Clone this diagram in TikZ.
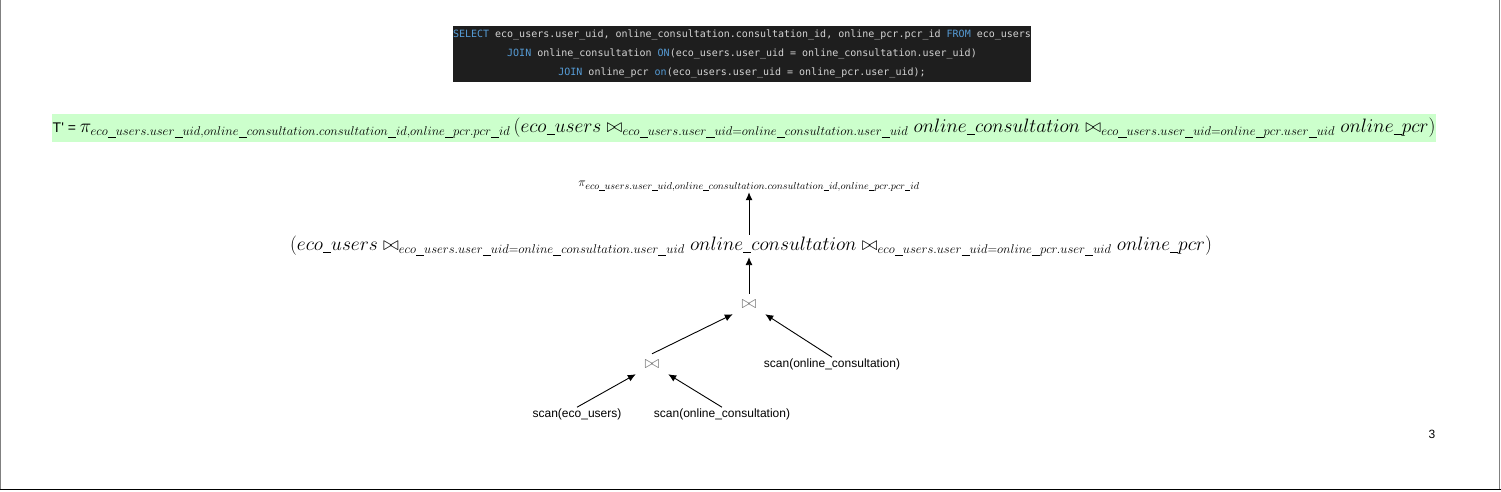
\RequirePackage{fix-cm}
\documentclass[tikz,border=0pt]{standalone}
\usepackage[no-math]{fontspec}
\newfontfamily\arialfont{Liberation Sans}
\newfontfamily\codefont{DejaVu Sans Mono}
\usetikzlibrary{arrows.meta}
\definecolor{codebg}{HTML}{1E1E1E}
\definecolor{codekw}{HTML}{569CD6}
\definecolor{codetx}{HTML}{D4D4D4}
\definecolor{relbg}{HTML}{CCFFCC}
\DeclareMathSizes{12.6}{12.6}{10.1}{7}
\DeclareMathSizes{19.4}{19.4}{12.7}{9}
\newcommand{\kw}[1]{\textcolor{codekw}{#1}}
\newcommand{\us}{\rule[-0.12em]{0.42em}{0.045em}}
\newcommand{\projattrs}{eco\us users.user\us uid,online\us consultation.consultation\us id,online\us pcr.pcr\us id}
\newcommand{\joinexpr}{\left(eco\us users \bowtie_{eco\us users.user\us uid=online\us consultation.user\us uid} online\us consultation \bowtie_{eco\us users.user\us uid=online\us pcr.user\us uid} online\us pcr\right)}
\begin{document}
\begin{tikzpicture}[x=1pt,y=-1pt,
    scanlbl/.style={font=\arialfont\fontsize{12}{14}\selectfont,inner sep=1pt},
    joinsym/.style={text=black!55,font=\fontsize{18}{20}\selectfont,inner sep=0pt,minimum width=32,minimum height=20},
    arr/.style={-{Latex[length=8,width=7]},line width=0.9}]
        \useasboundingbox (0,0) rectangle (1501,491);
        \fill[white] (0,0) rectangle (1501,491);
        \draw[gray] (0.5,0) -- (0.5,489);
        \draw[gray] (1499.5,0) -- (1499.5,489);
        \draw[line width=1.5] (0,489.5) -- (1501,489.5);
        % sql query
        \node[fill=codebg,text=codetx,font=\codefont\fontsize{10}{19}\selectfont,align=center,
              inner sep=0pt,minimum width=578,minimum height=56] (sql) at (742,54)
              {\kw{SELECT} eco\_users.user\_uid, online\_consultation.consultation\_id, online\_pcr.pcr\_id \kw{FROM} eco\_users\\
               \kw{JOIN} online\_consultation \kw{ON}(eco\_users.user\_uid = online\_consultation.user\_uid)\\
               \kw{JOIN} online\_pcr \kw{on}(eco\_users.user\_uid = online\_pcr.user\_uid);};
        % relational algebra
        \node[fill=relbg,anchor=west,inner xsep=0.5pt,inner ysep=0pt,minimum height=28,
              font=\fontsize{19.4}{24}\selectfont] (relbar) at (52,128)
              {{\arialfont\fontsize{14}{16}\selectfont T\textquotesingle{} = }$\pi_{\projattrs}\joinexpr$};
        % query tree
        \node[font=\fontsize{12.6}{15}\selectfont,inner sep=1pt] (proj) at (749,186) {$\pi_{\projattrs}$};
        \node[font=\fontsize{19.4}{24}\selectfont,inner sep=1pt] (joinexp) at (751,246) {$\joinexpr$};
        \node[joinsym] (topjoin) at (749,304) {$\bowtie$};
        \node[joinsym] (lowjoin) at (652,364) {$\bowtie$};
        \node[scanlbl] (scanoc) at (832,364) {scan(online\_consultation)};
        \node[scanlbl] (scaneu) at (577,414) {scan(eco\_users)};
        \node[scanlbl] (scanocb) at (722,414) {scan(online\_consultation)};
        \node[font=\arialfont\fontsize{12}{14}\selectfont] (pagenum) at (1432,434) {3};
        \draw[arr] (joinexp.north -| proj) -- (proj);
        \draw[arr] (topjoin) -- (joinexp.south -| topjoin);
        \draw[arr] (lowjoin.north) -- (topjoin.south west);
        \draw[arr] (scanoc.north) -- (topjoin.south east);
        \draw[arr] (scaneu.north) -- (lowjoin.south west);
        \draw[arr] (scanocb.north) -- (lowjoin.south east);
\end{tikzpicture}
\end{document}
